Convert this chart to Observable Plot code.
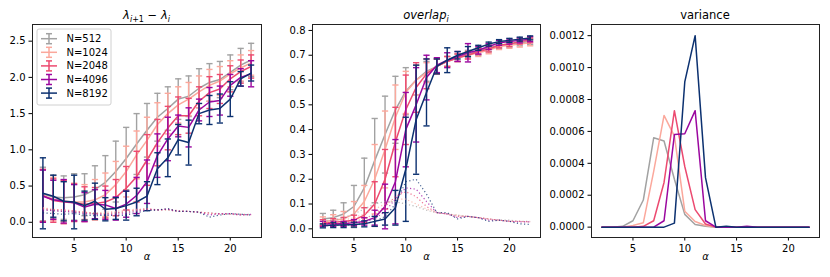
<!DOCTYPE html>
<html><head><meta charset="utf-8">
<script src="https://cdn.jsdelivr.net/npm/d3@7"></script>
<script src="https://cdn.jsdelivr.net/npm/@observablehq/plot@0.6"></script>
<style>
body{margin:0;background:#fff;}
#wrap{position:relative;width:830px;height:277px;font-family:"DejaVu Sans",sans-serif;overflow:hidden;}
.panel{position:absolute;top:0;height:277px;}
.title{position:absolute;top:8px;text-align:center;font-size:11.5px;line-height:14px;color:#000;white-space:nowrap;}
.title sub{font-size:8px;vertical-align:-3px;line-height:0;}
</style></head>
<body><div id="wrap"></div>
<script>
// ---------- data ----------
const alphas = [2,3,4,5,6,7,8,9,10,11,12,13,14,15,16,17,18,19,20,21,22];
const seriesNames = ["N=512","N=1024","N=2048","N=4096","N=8192"];
const seriesColors = ["#a2a2a2","#fba89c","#ec4a70","#9b079f","#0c3170"];

// panel 1: lambda_{i+1} - lambda_i (mean, std, dotted)
const gap512  = [0.39,0.35,0.34,0.35,0.38,0.45,0.55,0.70,0.88,1.08,1.27,1.45,1.57,1.70,1.74,1.85,1.93,1.97,2.07,2.17,2.24];
const gap1024 = [0.37,0.32,0.29,0.28,0.28,0.31,0.38,0.52,0.70,0.93,1.13,1.35,1.50,1.62,1.70,1.80,1.89,1.95,2.05,2.13,2.20];
const gap2048 = [0.37,0.30,0.28,0.27,0.25,0.26,0.28,0.34,0.47,0.63,0.86,1.10,1.30,1.47,1.47,1.67,1.79,1.84,1.98,2.08,2.15];
const gap4096 = [0.36,0.31,0.29,0.27,0.21,0.25,0.24,0.19,0.25,0.37,0.56,0.92,1.15,1.33,1.31,1.55,1.66,1.68,1.89,2.00,2.05];
const gap8192 = [0.40,0.36,0.29,0.28,0.23,0.29,0.18,0.19,0.23,0.28,0.36,0.74,0.89,1.14,1.10,1.50,1.55,1.57,1.70,1.98,2.06];
const gapErr512  = [0.37,0.30,0.30,0.32,0.29,0.33,0.37,0.42,0.43,0.42,0.37,0.33,0.30,0.28,0.28,0.27,0.26,0.25,0.24,0.23,0.23];
const gapErr1024 = [0.36,0.30,0.28,0.26,0.24,0.28,0.30,0.32,0.35,0.33,0.32,0.30,0.28,0.25,0.23,0.22,0.22,0.20,0.18,0.18,0.17];
const gapErr2048 = [0.36,0.30,0.30,0.26,0.24,0.22,0.22,0.25,0.30,0.35,0.35,0.32,0.30,0.26,0.24,0.20,0.22,0.20,0.18,0.16,0.16];
const gapErr4096 = [0.36,0.27,0.30,0.25,0.20,0.20,0.20,0.16,0.18,0.25,0.30,0.30,0.30,0.15,0.27,0.15,0.20,0.20,0.15,0.12,0.18];
const gapErr8192 = [0.49,0.29,0.27,0.37,0.20,0.25,0.16,0.15,0.20,0.19,0.20,0.22,0.26,0.21,0.31,0.14,0.20,0.20,0.24,0.10,0.11];
const gapDot512  = [0.18,0.16,0.15,0.14,0.13,0.13,0.12,0.13,0.14,0.16,0.17,0.17,0.17,0.15,0.15,0.14,0.13,0.12,0.11,0.11,0.11];
const gapDot1024 = [0.20,0.18,0.17,0.15,0.14,0.13,0.14,0.15,0.17,0.18,0.18,0.17,0.17,0.15,0.15,0.14,0.12,0.12,0.11,0.10,0.11];
const gapDot2048 = [0.19,0.17,0.17,0.16,0.14,0.12,0.12,0.13,0.15,0.17,0.19,0.17,0.18,0.16,0.15,0.14,0.13,0.11,0.12,0.11,0.10];
const gapDot4096 = [0.17,0.16,0.15,0.14,0.12,0.11,0.10,0.11,0.12,0.15,0.17,0.17,0.18,0.15,0.15,0.14,0.10,0.12,0.12,0.10,0.11];
const gapDot8192 = [0.13,0.12,0.11,0.12,0.10,0.09,0.10,0.09,0.10,0.13,0.16,0.17,0.19,0.15,0.15,0.14,0.07,0.10,0.12,0.11,0.10];

// panel 2: overlap_i (mean, std, dotted)
const ov512  = [0.040,0.045,0.060,0.090,0.165,0.275,0.38,0.48,0.555,0.60,0.635,0.655,0.675,0.69,0.705,0.715,0.73,0.74,0.745,0.75,0.755];
const ov1024 = [0.030,0.035,0.040,0.060,0.110,0.200,0.32,0.45,0.55,0.60,0.63,0.655,0.675,0.69,0.70,0.71,0.72,0.735,0.74,0.745,0.75];
const ov2048 = [0.025,0.027,0.030,0.035,0.055,0.100,0.20,0.35,0.48,0.57,0.625,0.655,0.675,0.69,0.70,0.715,0.725,0.74,0.745,0.755,0.76];
const ov4096 = [0.020,0.020,0.020,0.025,0.030,0.045,0.09,0.19,0.40,0.50,0.61,0.66,0.68,0.695,0.71,0.72,0.735,0.75,0.755,0.76,0.765];
const ov8192 = [0.012,0.015,0.015,0.017,0.020,0.030,0.04,0.085,0.24,0.44,0.55,0.655,0.68,0.70,0.715,0.73,0.745,0.755,0.76,0.765,0.77];
const ovErr512  = [0.022,0.030,0.045,0.085,0.120,0.170,0.155,0.135,0.095,0.060,0.040,0.030,0.020,0.015,0.015,0.015,0.015,0.012,0.012,0.012,0.012];
const ovErr1024 = [0.018,0.022,0.030,0.050,0.065,0.140,0.155,0.130,0.085,0.060,0.040,0.030,0.020,0.016,0.015,0.015,0.014,0.012,0.012,0.012,0.012];
const ovErr2048 = [0.012,0.014,0.016,0.020,0.030,0.090,0.120,0.140,0.140,0.100,0.060,0.030,0.020,0.015,0.015,0.012,0.012,0.010,0.010,0.010,0.010];
const ovErr4096 = [0.010,0.010,0.010,0.012,0.015,0.030,0.090,0.170,0.150,0.150,0.090,0.030,0.030,0.020,0.037,0.015,0.012,0.010,0.010,0.010,0.010];
const ovErr8192 = [0.008,0.010,0.010,0.010,0.012,0.020,0.025,0.070,0.210,0.220,0.135,0.030,0.050,0.015,0.020,0.010,0.008,0.008,0.008,0.008,0.008];
const ovDot512  = [0.030,0.035,0.045,0.060,0.080,0.100,0.110,0.110,0.100,0.090,0.075,0.065,0.060,0.055,0.050,0.045,0.040,0.035,0.035,0.030,0.030];
const ovDot1024 = [0.025,0.030,0.035,0.045,0.060,0.080,0.100,0.120,0.120,0.100,0.080,0.065,0.060,0.055,0.050,0.045,0.040,0.035,0.030,0.030,0.028];
const ovDot2048 = [0.020,0.022,0.025,0.030,0.040,0.060,0.090,0.130,0.150,0.130,0.090,0.065,0.060,0.050,0.050,0.045,0.040,0.035,0.030,0.030,0.028];
const ovDot4096 = [0.015,0.017,0.020,0.022,0.028,0.040,0.070,0.120,0.165,0.160,0.110,0.065,0.060,0.045,0.050,0.045,0.035,0.035,0.030,0.028,0.028];
const ovDot8192 = [0.012,0.013,0.015,0.017,0.020,0.030,0.050,0.100,0.190,0.200,0.140,0.065,0.065,0.040,0.050,0.045,0.030,0.035,0.030,0.020,0.018];

// panel 3: variance
const var512  = [0,0,0.000005,0.00004,0.00017,0.00056,0.00054,0.00030,0.00008,0.000017,0.000006,0,0,0,0,0,0,0,0,0,0];
const var1024 = [0,0,0,0.00001,0.000027,0.00035,0.00070,0.00057,0.00010,0.000035,0.00001,0,0,0,0,0,0,0,0,0,0];
const var2048 = [0,0,0,0,0.000005,0.00004,0.00028,0.00073,0.00038,0.00011,0.00002,0,0,0,0,0,0,0,0,0,0];
const var4096 = [0,0,0,0,0,0,0.00004,0.00058,0.000585,0.00073,0.00004,0,0,0,0.000005,0,0,0,0,0,0];
const var8192 = [0,0,0,0,0,0,0,0.000025,0.00091,0.00120,0.00031,0,0.000006,0,0,0,0,0,0,0,0];

const gapTicks = [0,0.5,1.0,1.5,2.0,2.5];
const ovTicks = [0,0.1,0.2,0.3,0.4,0.5,0.6,0.7,0.8];
const varTicks = [0,0.0002,0.0004,0.0006,0.0008,0.0010,0.0012];
const xTicks = [5,10,15,20];

// ---------- build ----------
function rows(means, errs) {
  return alphas.map((a, i) => ({a, m: means[i], s: errs ? errs[i] : 0}));
}
const capHalf = 0.3;

function seriesMarks(means, errs, color) {
  const r = rows(means, errs);
  const marks = [];
  if (errs) {
    marks.push(Plot.ruleX(r, {x: "a", y1: d => d.m - d.s, y2: d => d.m + d.s, stroke: color, strokeWidth: 1.4}));
    marks.push(Plot.link(r, {x1: d => d.a - capHalf, x2: d => d.a + capHalf, y1: d => d.m + d.s, y2: d => d.m + d.s, stroke: color, strokeWidth: 1.4, strokeLinecap: "butt"}));
    marks.push(Plot.link(r, {x1: d => d.a - capHalf, x2: d => d.a + capHalf, y1: d => d.m - d.s, y2: d => d.m - d.s, stroke: color, strokeWidth: 1.4, strokeLinecap: "butt"}));
  }
  marks.push(Plot.line(r, {x: "a", y: "m", stroke: color, strokeWidth: 1.5}));
  return marks;
}
function dotMarks(dots, color) {
  const r = rows(dots, null);
  return [Plot.line(r, {x: "a", y: "m", stroke: color, strokeWidth: 1.2, strokeDasharray: "1.2,2.4", strokeLinecap: "butt", strokeOpacity: 0.75})];
}

function makePanel({left, width, marginLeft, marginRight, yDomain, yTicks, yFormat, means, errs, dots, titleHTML}) {
  const marks = [Plot.frame({stroke: "#222", strokeWidth: 1})];
  means.forEach((m, i) => marks.push(...seriesMarks(m, errs ? errs[i] : null, seriesColors[i])));
  if (dots) dots.forEach((d, i) => marks.push(...dotMarks(d, seriesColors[i])));
  marks.push(Plot.text(["α"], {frameAnchor: "bottom", dy: 22, fontStyle: "italic", fontSize: 10}));
  const svg = Plot.plot({
    width, height: 277, marginTop: 24, marginBottom: 40, marginLeft, marginRight,
    style: {fontFamily: "DejaVu Sans, sans-serif", fontSize: "10px", color: "#000", background: "transparent", overflow: "visible"},
    x: {domain: [1, 23], ticks: xTicks, tickSize: 3.5, tickPadding: 3.5, label: null},
    y: {domain: yDomain, ticks: yTicks, tickFormat: d3.format(yFormat), tickSize: 3.5, tickPadding: 3.5, label: null},
    marks
  });
  const div = document.createElement("div");
  div.className = "panel";
  div.style.left = left + "px";
  div.style.width = width + "px";
  div.appendChild(svg);
  const t = document.createElement("div");
  t.className = "title";
  t.style.left = marginLeft + "px";
  t.style.width = (width - marginLeft - marginRight) + "px";
  t.innerHTML = titleHTML;
  div.appendChild(t);
  document.getElementById("wrap").appendChild(div);
  return svg;
}

const svg1 = makePanel({
  left: 0, width: 277, marginLeft: 32, marginRight: 16,
  yDomain: [-0.21, 2.73], yTicks: gapTicks, yFormat: ".1f",
  means: [gap512, gap1024, gap2048, gap4096, gap8192],
  errs: [gapErr512, gapErr1024, gapErr2048, gapErr4096, gapErr8192],
  dots: [gapDot512, gapDot1024, gapDot2048, gapDot4096, gapDot8192],
  titleHTML: '<i>λ</i><sub><i>i</i>+1</sub> − <i>λ</i><sub><i>i</i></sub>'
});
makePanel({
  left: 277, width: 277, marginLeft: 35, marginRight: 14,
  yDomain: [-0.035, 0.824], yTicks: ovTicks, yFormat: ".1f",
  means: [ov512, ov1024, ov2048, ov4096, ov8192],
  errs: [ovErr512, ovErr1024, ovErr2048, ovErr4096, ovErr8192],
  dots: [ovDot512, ovDot1024, ovDot2048, ovDot4096, ovDot8192],
  titleHTML: '<i>overlap</i><sub><i>i</i></sub>'
});
makePanel({
  left: 554, width: 276, marginLeft: 37, marginRight: 11,
  yDomain: [-0.000065, 0.00127], yTicks: varTicks, yFormat: ".4f",
  means: [var512, var1024, var2048, var4096, var8192],
  errs: null, dots: null,
  titleHTML: 'variance'
});

// legend inside panel 1
const lg = d3.select(svg1).append("g")
  .attr("font-family", "DejaVu Sans, sans-serif").attr("font-size", 10).attr("text-anchor", "start");
lg.append("rect").attr("x", 37).attr("y", 29).attr("width", 74).attr("height", 76).attr("rx", 2)
  .attr("fill", "#fff").attr("fill-opacity", 0.85).attr("stroke", "#d0d0d0");
seriesNames.forEach((name, i) => {
  const y = 38.7 + i * 13.6, c = seriesColors[i];
  const g = lg.append("g").attr("stroke", c).attr("stroke-width", 1.5).attr("fill", "none");
  g.append("line").attr("x1", 41).attr("x2", 57).attr("y1", y).attr("y2", y);
  g.append("line").attr("x1", 49).attr("x2", 49).attr("y1", y - 5).attr("y2", y + 5);
  g.append("line").attr("x1", 46).attr("x2", 52).attr("y1", y - 5).attr("y2", y - 5);
  g.append("line").attr("x1", 46).attr("x2", 52).attr("y1", y + 5).attr("y2", y + 5);
  lg.append("text").attr("x", 66.5).attr("y", y).attr("dy", "0.35em").attr("fill", "#000")
    .attr("text-anchor", "start").text(name);
});
</script>
</body></html>
